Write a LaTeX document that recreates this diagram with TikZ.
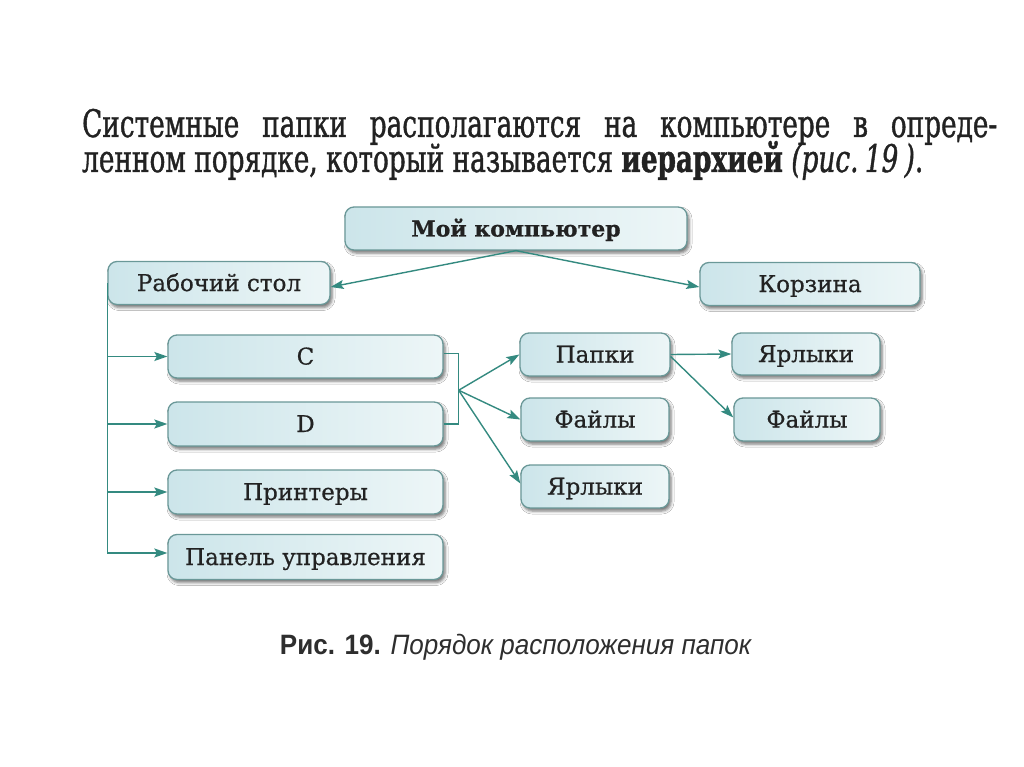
\documentclass[tikz,border=0pt]{standalone}
\usepackage{fontspec}
\setmainfont[FakeBold=0.6]{DejaVu Serif}
\newfontfamily\titlefont[FakeStretch=0.77,FakeBold=1]{DejaVu Serif Condensed}
\newfontfamily\capfont[FakeStretch=0.93]{Liberation Sans}
\usetikzlibrary{arrows.meta,shadows.blur,calc}
\definecolor{edgec}{HTML}{6A9898}
\definecolor{boxl}{HTML}{CCE5EA}
\definecolor{boxr}{HTML}{EDF6F7}
\definecolor{linkc}{HTML}{348A80}
\definecolor{ink}{HTML}{222222}
\begin{document}
\begin{tikzpicture}[x=1pt,y=-1pt,
  nodebox/.style={draw=edgec, line width=1.3pt, rounded corners=9pt,
    left color=boxl, right color=boxr, minimum height=43pt, text=ink,
    font=\fontsize{23}{25}\selectfont, inner sep=0pt,
    text height=16pt, text depth=0pt,
    blur shadow={shadow xshift=2pt, shadow yshift=-3pt, shadow blur radius=3pt, shadow opacity=55}},
  linkline/.style={draw=linkc, line width=1.4pt},
  arr/.style={linkline, -{Stealth[length=13pt,width=9pt,inset=2.5pt]}}]
\useasboundingbox[fill=white] (0,0) rectangle (1024,767);

% title text
\node[anchor=base west, inner sep=0pt, text=ink,
      font=\titlefont\fontsize{38}{40}\selectfont] (t1) at (82,137)
  {\makebox[915pt][s]{Системные папки располагаются на компьютере в опреде-}};
\node[anchor=base west, inner sep=0pt, text=ink,
      font=\titlefont\fontsize{38}{40}\selectfont] (t2) at (82,172)
  {ленном порядке, который называется \textbf{иерархией} \textit{(рис.\,19\,)}.};

% boxes
\node[nodebox, minimum width=342pt, font=\bfseries\fontsize{22}{24}\selectfont] (mc) at (516,228.5) {Мой компьютер};
\node[nodebox, minimum width=222pt] (rs) at (219,283) {Рабочий стол};
\node[nodebox, minimum width=220pt] (korz) at (810,284) {Корзина};
\node[nodebox, minimum width=275pt] (c) at (305.5,356.5) {C};
\node[nodebox, minimum width=275pt, minimum height=44pt] (d) at (305.5,424) {D};
\node[nodebox, minimum width=275pt, minimum height=44pt] (pr) at (305.5,492) {Принтеры};
\node[nodebox, minimum width=275pt, minimum height=45pt] (pu) at (305.5,557) {Панель управления};
\node[nodebox, minimum width=150pt] (papki) at (595,354.5) {Папки};
\node[nodebox, minimum width=148pt] (fajly1) at (595,419.5) {Файлы};
\node[nodebox, minimum width=148pt] (jar1) at (595,486.5) {Ярлыки};
\node[nodebox, minimum width=148pt, minimum height=42pt] (jar2) at (806,354) {Ярлыки};
\node[nodebox, minimum width=146pt] (fajly2) at (807,419.5) {Файлы};

% connectors from Мой компьютер
\draw[arr] (mc.south) -- ([yshift=-4pt]rs.east);
\draw[arr] (mc.south) -- ([yshift=-3pt]korz.west);

% trunk from Рабочий стол
\coordinate (pua) at ([yshift=4pt]pu.west);
\draw[linkline] (rs.west) -- (rs.west |- pua);
\draw[arr] (rs.west |- c.west) -- (c.west);
\draw[arr] (rs.west |- d.west) -- (d.west);
\draw[arr] (rs.west |- pr.west) -- (pr.west);
\draw[arr] (rs.west |- pua) -- (pua);

% bracket C / D
\coordinate (fan) at ($(c.east)!0.5!(d.east)+(15,0)$);
\draw[linkline] ([yshift=3pt]c.east) -| (fan) |- (d.east);
\draw[arr] (fan) -- (papki.west);
\draw[arr] (fan) -- (fajly1.west);
\draw[arr] (fan) -- ([yshift=3pt]jar1.west);

% from Папки
\draw[arr] (papki.east) -- (jar2.west);
\draw[arr] ([yshift=-2pt]papki.east) -- ([yshift=2pt]fajly2.west);

% caption
\node[anchor=base, inner sep=0pt, text=black!82,
      font=\capfont\fontsize{28}{30}\selectfont] (cap) at (516,654)
  {\textbf{Рис. 19.} \textit{Порядок расположения папок}};
\end{tikzpicture}
\end{document}
